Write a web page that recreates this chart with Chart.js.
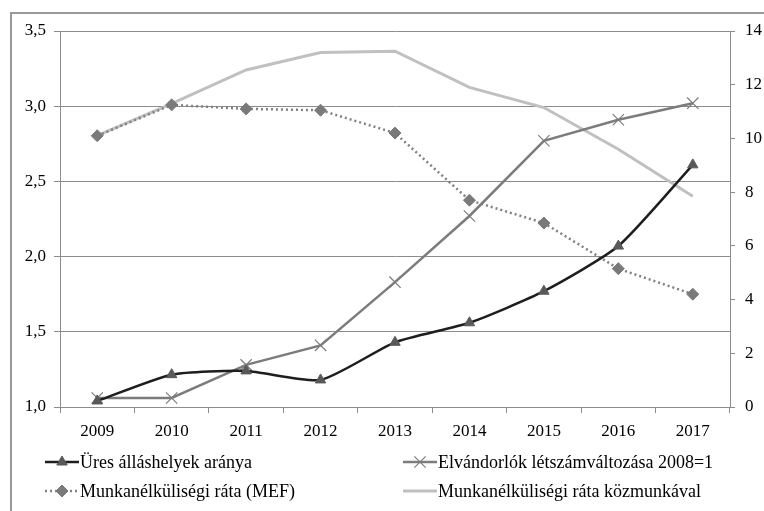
<!DOCTYPE html>
<html>
<head>
<meta charset="utf-8">
<script src="https://cdn.jsdelivr.net/npm/chart.js@4.4.1/dist/chart.umd.min.js"></script>
<style>
  html, body { margin: 0; padding: 0; background: #fff; overflow: hidden; }
  #wrap { width: 764px; height: 511px; position: relative; overflow: hidden; }
  #chart { position: absolute; left: 0; top: 0; }
</style>
</head>
<body>
<div id="wrap">
  <canvas id="chart" width="764" height="511"></canvas>
</div>
<script>
// Years on the category axis
const years = ["2009", "2010", "2011", "2012", "2013", "2014", "2015", "2016", "2017"];

// Left axis series
const uresAllashelyek = [1.04, 1.215, 1.24, 1.18, 1.43, 1.56, 1.77, 2.07, 2.61];
const elvandorlok = [1.06, 1.06, 1.28, 1.41, 1.83, 2.27, 2.77, 2.91, 3.02];

// Right axis series (%)
const munkanelkuliMef = [10.1, 11.25, 11.1, 11.05, 10.2, 7.7, 6.85, 5.15, 4.2];
const munkanelkuliKozmunka = [10.1, 11.3, 12.55, 13.2, 13.25, 11.9, 11.15, 9.6, 7.85];

// Axis tick values
const leftTicks = [1.0, 1.5, 2.0, 2.5, 3.0, 3.5];
const rightTicks = [0, 2, 4, 6, 8, 10, 12, 14];

const serif = "'Liberation Serif', 'Times New Roman', serif";
const gridGray = "#8c8c8c";

// figure frame, drawn before everything else
const framePlugin = {
  id: "figFrame",
  beforeDatasetsDraw(chart) {
    const ctx = chart.ctx;
    ctx.save();
    ctx.fillStyle = "#999999";
    ctx.fillRect(10, 12, 2, 499);
    ctx.fillRect(10, 12, 754, 2);
    ctx.restore();
  },
};

// Two-column legend under the axis
const legendPlugin = {
  id: "twoColLegend",
  afterDraw(chart) {
    const ctx = chart.ctx;
    const cols = [45, 403];
    const rows = [462, 491];
    chart.data.datasets.forEach((ds, i) => {
      const x = cols[i % 2];
      const y = rows[Math.floor(i / 2)];
      ctx.save();
      ctx.strokeStyle = ds.borderColor;
      ctx.lineWidth = ds.borderWidth;
      ctx.setLineDash(ds.borderDash || []);
      ctx.beginPath();
      ctx.moveTo(x, y);
      ctx.lineTo(x + 34, y);
      ctx.stroke();
      ctx.setLineDash([]);
      if (ds.pointRadius > 0) {
        ctx.fillStyle = ds.pointBackgroundColor;
        ctx.strokeStyle = ds.pointBorderColor;
        ctx.lineWidth = ds.pointBorderWidth;
        Chart.helpers.drawPoint(ctx, {
          pointStyle: ds.pointStyle,
          radius: ds.pointRadius,
          borderWidth: ds.pointBorderWidth,
          rotation: 0,
        }, x + 17, y);
      }
      ctx.restore();
      ctx.save();
      ctx.fillStyle = "#000";
      ctx.font = "18px " + serif;
      ctx.textBaseline = "middle";
      ctx.fillText(ds.label, x + 35, y + 1);
      ctx.restore();
    });
  },
};

const ctx = document.getElementById("chart");

new Chart(ctx, {
  type: "line",
  plugins: [framePlugin, legendPlugin],
  data: {
    labels: years,
    datasets: [
      {
        label: "Üres álláshelyek aránya",
        data: uresAllashelyek,
        yAxisID: "y",
        borderColor: "#1e1e1e",
        borderWidth: 2.5,
        tension: 0.2,
        pointStyle: "triangle",
        pointRadius: 6,
        pointBackgroundColor: "#595959",
        pointBorderColor: "#595959",
        pointBorderWidth: 1,
        order: 1,
      },
      {
        label: "Elvándorlók létszámváltozása 2008=1",
        data: elvandorlok,
        yAxisID: "y",
        borderColor: "#7c7c7c",
        borderWidth: 2.5,
        tension: 0,
        pointStyle: "crossRot",
        pointRadius: 8,
        pointBackgroundColor: "#7c7c7c",
        pointBorderColor: "#7c7c7c",
        pointBorderWidth: 1.2,
        order: 2,
      },
      {
        label: "Munkanélküliségi ráta (MEF)",
        data: munkanelkuliMef,
        yAxisID: "y1",
        borderColor: "#808080",
        borderWidth: 2.5,
        borderDash: [2, 3],
        tension: 0,
        pointStyle: "rectRot",
        pointRadius: 6,
        pointBackgroundColor: "#7a7a7a",
        pointBorderColor: "#7a7a7a",
        pointBorderWidth: 1,
        order: 3,
      },
      {
        label: "Munkanélküliségi ráta közmunkával",
        data: munkanelkuliKozmunka,
        yAxisID: "y1",
        borderColor: "#c0c0c0",
        borderWidth: 3,
        tension: 0,
        pointRadius: 0,
        pointBorderWidth: 0,
        order: 4,
      },
    ],
  },
  options: {
    responsive: false,
    animation: false,
    layout: { padding: { top: 31, left: 0, right: 0, bottom: 0 } },
    plugins: {
      legend: { display: false },
      tooltip: { enabled: false },
    },
    scales: {
      x: {
        offset: true,
        grid: {
          offset: true,
          drawOnChartArea: false,
          drawTicks: true,
          tickLength: 6,
          color: gridGray,
        },
        border: { color: gridGray, width: 1 },
        ticks: {
          color: "#000",
          font: { family: serif, size: 17 },
          padding: 8,
          maxRotation: 0,
        },
        afterFit: (s) => { s.height = 104; },
      },
      y: {
        position: "left",
        min: 1,
        max: 3.5,
        afterBuildTicks: (s) => { s.ticks = leftTicks.map((v) => ({ value: v })); },
        grid: {
          color: gridGray,
          drawTicks: true,
          tickLength: 6,
        },
        border: { color: gridGray, width: 1 },
        ticks: {
          color: "#000",
          font: { family: serif, size: 17 },
          padding: 8,
          callback: (v) => v.toFixed(1).replace(".", ","),
        },
        afterFit: (s) => { s.width = 60; },
      },
      y1: {
        position: "right",
        min: 0,
        max: 14,
        afterBuildTicks: (s) => { s.ticks = rightTicks.map((v) => ({ value: v })); },
        grid: {
          drawOnChartArea: false,
          drawTicks: true,
          tickLength: 5,
          color: gridGray,
        },
        border: { color: gridGray, width: 1 },
        ticks: {
          color: "#000",
          font: { family: serif, size: 17 },
          padding: 10,
          callback: (v) => String(v),
        },
        afterFit: (s) => { s.width = 34; },
      },
    },
  },
});
</script>
</body>
</html>
